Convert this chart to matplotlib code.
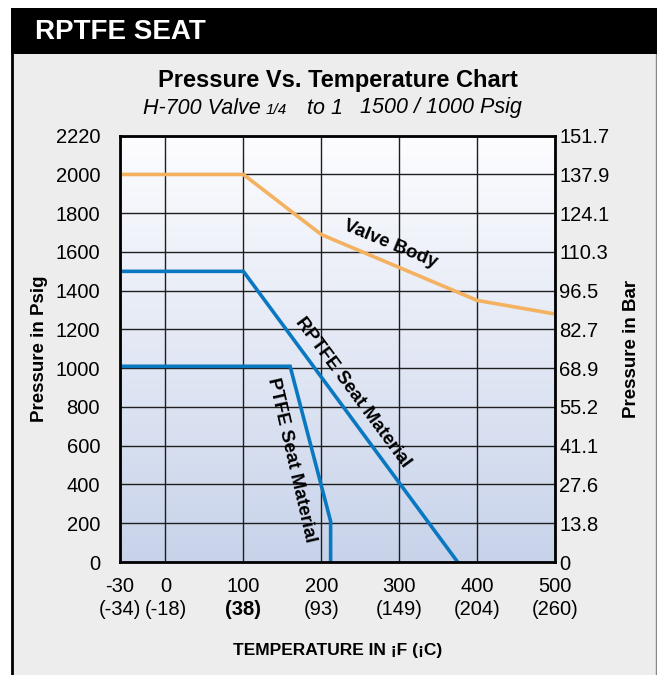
import numpy as np
import matplotlib.pyplot as plt
from matplotlib.patches import Rectangle
from matplotlib.colors import LinearSegmentedColormap

plt.rcParams['font.family'] = ['Liberation Sans', 'DejaVu Sans']

# temperatures in deg F, pressures in psig
valve_temp = [-30, 100, 200, 400, 500]
valve_psi = [2000, 2000, 1690, 1350, 1280]
rptfe_temp = [-30, 100, 375]
rptfe_psi = [1500, 1500, 0]
ptfe_temp = [-30, 160, 212, 212]
ptfe_psi = [1010, 1010, 210, 0]

x_ticks = [-30, 0, 100, 200, 300, 400, 500]
x_labels_f = ['-30', '0', '100', '200', '300', '400', '500']
x_labels_c = ['(-34)', '(-18)', '(38)', '(93)', '(149)', '(204)', '(260)']
y_ticks = [0, 200, 400, 600, 800, 1000, 1200, 1400, 1600, 1800, 2000, 2200]
y_labels_psi = ['0', '200', '400', '600', '800', '1000', '1200', '1400', '1600', '1800', '2000', '2220']
y_labels_bar = ['0', '13.8', '27.6', '41.1', '55.2', '68.9', '82.7', '96.5', '110.3', '124.1', '137.9', '151.7']

ORANGE = '#f4b15f'
BLUE = '#0a78c0'


# the -30 column is drawn wider than its share of the scale
def fwd(t):
    t = np.asarray(t, dtype=float)
    return np.where(t < 0, t * 59.0 / 30.0, t)


def inv(u):
    u = np.asarray(u, dtype=float)
    return np.where(u < 0, u * 30.0 / 59.0, u)


fig = plt.figure(figsize=(6.57, 6.75), dpi=100)

# header bar and grey panel
fig.patches.append(Rectangle((11 / 657, 0), 645 / 657, 621 / 675,
                             transform=fig.transFigure, facecolor='#ededed',
                             edgecolor='none', zorder=-3))
fig.add_artist(plt.Line2D([12 / 657, 12 / 657], [0, 1 - 54 / 675], color='black',
                          lw=2, transform=fig.transFigure, zorder=-2))
fig.add_artist(plt.Line2D([655.5 / 657, 655.5 / 657], [0, 1 - 54 / 675], color='#888888',
                          lw=1, transform=fig.transFigure, zorder=-2))
fig.patches.append(Rectangle((11 / 657, 1 - 54 / 675), 646 / 657, 46 / 675,
                             transform=fig.transFigure, facecolor='black',
                             edgecolor='none', zorder=-2))
fig.text(35 / 657, 1 - 32 / 675, 'RPTFE SEAT', color='white', fontsize=20,
         fontweight='bold', va='center', ha='left')

fig.text(338 / 657, 1 - 80 / 675, 'Pressure Vs. Temperature Chart', fontsize=17,
         fontweight='bold', ha='center', va='center')

# subtitle in pieces so the fraction can be smaller
fig.text(143 / 657, 1 - 108 / 675, 'H-700 Valve', fontsize=15.5, style='italic',
         ha='left', va='center')
fig.text(266 / 657, 1 - 110 / 675, '1/4', fontsize=11, style='italic',
         ha='left', va='center')
fig.text(307 / 657, 1 - 108 / 675, 'to 1', fontsize=15.5, style='italic',
         ha='left', va='center')
fig.text(360 / 657, 1 - 108 / 675, '1500 / 1000 Psig', fontsize=15.5, style='italic',
         ha='left', va='center')

ax = fig.add_axes([119.5 / 657, 1 - 562 / 675, 435.5 / 657, 426.3 / 675])
ax.set_xscale('function', functions=(fwd, inv))
ax.set_xlim(-30, 500)
ax.set_ylim(0, 2200)

# background gradient
grad = np.linspace(0, 1, 256).reshape(-1, 1)
cmap = LinearSegmentedColormap.from_list('bg', ['#c8d3ea', '#fdfdff'])
ax.imshow(grad, extent=[0, 1, 0, 1], transform=ax.transAxes, origin='lower',
          cmap=cmap, aspect='auto', zorder=0)

ax.set_xticks(x_ticks)
ax.set_xticklabels(x_labels_f, fontsize=14.5)
ax.set_yticks(y_ticks)
ax.set_yticklabels(y_labels_psi, fontsize=14.5)
ax.tick_params(axis='both', length=0)
ax.tick_params(axis='y', pad=14)
ax.tick_params(axis='x', pad=11)
ax.minorticks_off()
ax.grid(True, color='#1e1e1e', lw=1.0, zorder=1)
ax.set_axisbelow(False)
for s in ax.spines.values():
    s.set_linewidth(2)
    s.set_zorder(5)

for xi, lab in zip(x_ticks, x_labels_c):
    ax.text(xi, -0.09, lab, transform=ax.get_xaxis_transform(), ha='center', va='top',
            fontsize=14.5, fontweight='bold' if lab == '(38)' else 'normal')

ax.plot(valve_temp, valve_psi, color=ORANGE, lw=2.6, zorder=3, solid_joinstyle='miter')
ax.plot(rptfe_temp, rptfe_psi, color=BLUE, lw=2.6, zorder=3, solid_joinstyle='miter')
ax.plot(ptfe_temp, ptfe_psi, color=BLUE, lw=2.6, zorder=3, solid_joinstyle='miter')

ax.text(289, 1642, 'Valve Body', rotation=-22.5, fontsize=13.5, fontweight='bold',
        ha='center', va='center', rotation_mode='anchor', zorder=4)
ax.text(241, 876, 'RPTFE Seat Material', rotation=-53.5, fontsize=13.5, fontweight='bold',
        ha='center', va='center', rotation_mode='anchor', zorder=4)
ax.text(161, 525, 'PTFE Seat Material', rotation=-77, fontsize=13.5, fontweight='bold',
        ha='center', va='center', rotation_mode='anchor', zorder=4)

ax.set_ylabel('Pressure in Psig', fontsize=13.5, fontweight='bold', labelpad=5)
ax.set_xlabel('TEMPERATURE IN ¡F (¡C)', fontsize=12.5, fontweight='bold', labelpad=34)

ax2 = ax.twinx()
ax2.set_ylim(0, 2200)
ax2.set_yticks(y_ticks)
ax2.set_yticklabels(y_labels_bar, fontsize=14.5)
ax2.tick_params(axis='y', length=0, pad=3)
ax2.set_ylabel('Pressure in Bar', fontsize=13.5, fontweight='bold', labelpad=10)
for s in ax2.spines.values():
    s.set_visible(False)

fig.savefig('out.png', dpi=100)
